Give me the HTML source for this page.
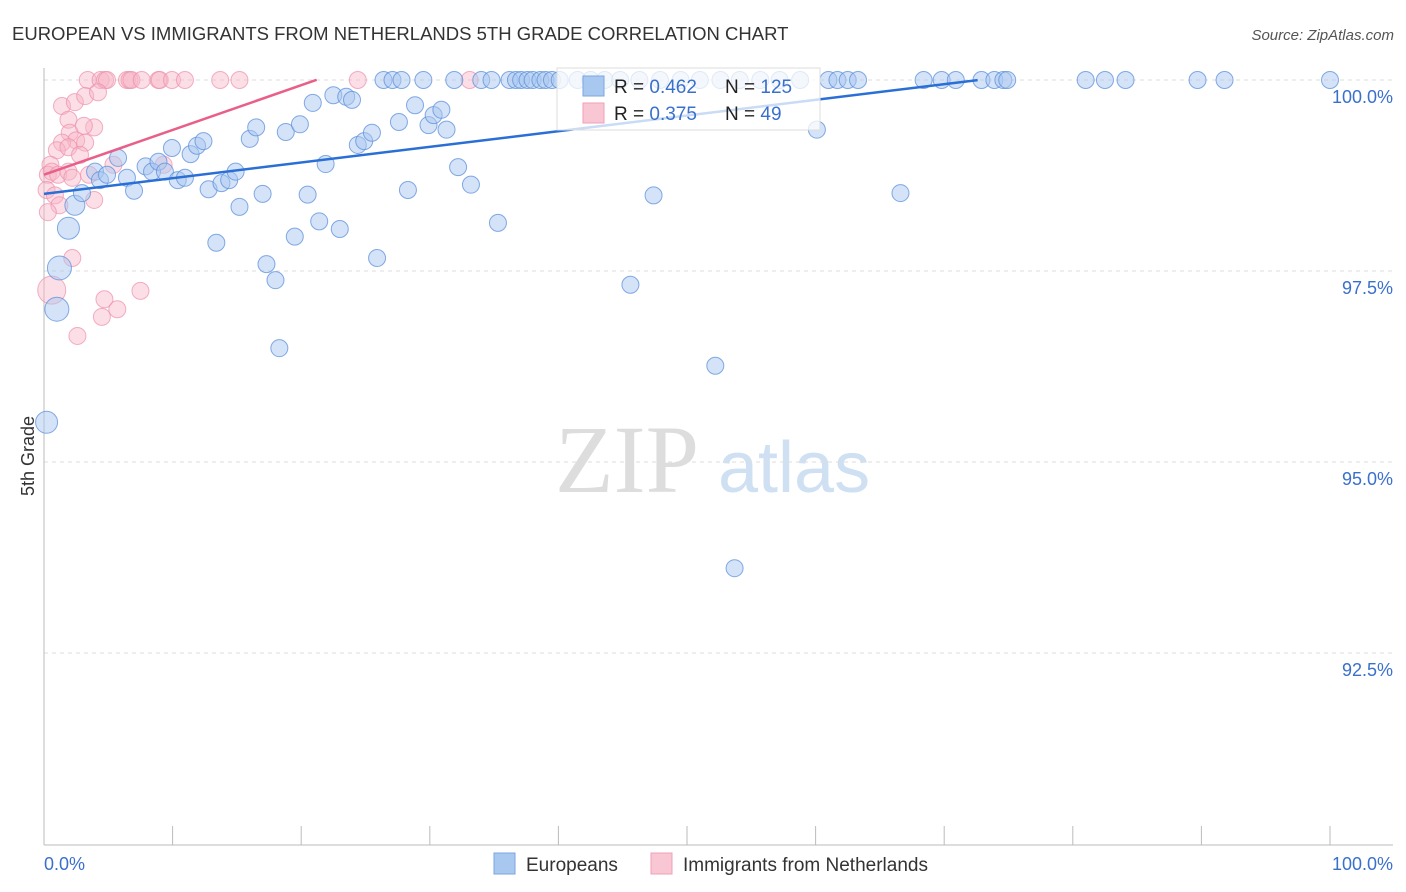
<!DOCTYPE html>
<html><head><meta charset="utf-8"><style>
body{margin:0;background:#fff;font-family:"Liberation Sans",sans-serif;}
#wrap{position:relative;width:1406px;height:892px;overflow:hidden;}
</style></head><body>
<div id="wrap">
<svg id="svg" width="1406" height="892" xmlns="http://www.w3.org/2000/svg">
<text x="12" y="40" font-size="18.5" fill="#333" font-family="Liberation Sans, sans-serif">EUROPEAN VS IMMIGRANTS FROM NETHERLANDS 5TH GRADE CORRELATION CHART</text>
<text x="1394" y="40" font-size="15" fill="#555" text-anchor="end" font-style="italic">Source: ZipAtlas.com</text>
<text x="0" y="0" transform="translate(34,456) rotate(-90)" font-size="18" fill="#333" text-anchor="middle">5th Grade</text>
<text x="555" y="492" font-size="96" fill="#ddd" font-family="Liberation Serif, serif">ZIP</text>
<text x="718" y="492" font-size="72" fill="#cfe0f3">atlas</text>
<g id="grid"></g><g id="pts"></g><g id="lines"></g>
<g>
<rect x="557" y="68" width="263" height="62" fill="#fff" fill-opacity="0.75" stroke="#ddd"/>
<rect x="583" y="76" width="21" height="20" fill="#a9c8f0" stroke="#7aa6e0"/>
<rect x="583" y="103" width="21" height="20" fill="#f9c6d4" stroke="#f0a0b8"/>
<text x="614" y="93" font-size="19" fill="#222">R = <tspan fill="#3a70cc">0.462</tspan></text>
<text x="725" y="93" font-size="19" fill="#222">N = <tspan fill="#3a70cc">125</tspan></text>
<text x="614" y="120" font-size="19" fill="#222">R = <tspan fill="#3a70cc">0.375</tspan></text>
<text x="725" y="120" font-size="19" fill="#222">N = <tspan fill="#3a70cc"> 49</tspan></text>
</g>
<g>
<rect x="494" y="853" width="21" height="21" fill="#a9c8f0" stroke="#7aa6e0"/>
<text x="526" y="871" font-size="19" fill="#333">Europeans</text>
<rect x="651" y="853" width="21" height="21" fill="#f9c6d4" stroke="#f0a0b8"/>
<text x="683" y="871" font-size="19" fill="#333">Immigrants from Netherlands</text>
</g>
</svg>
</div>
<script>
const blueX=[26.4,27.1,27.8,29.5,31.9,34.0,34.8,36.2,36.7,37.1,37.6,38.0,38.6,39.0,39.5,40.1,41.5,42.5,43.6,44.8,46.3,47.9,49.5,51.0,52.6,54.1,55.7,57.2,58.8,61.0,61.7,62.5,63.3,68.4,69.8,70.9,72.9,73.9,74.6,74.9,81.0,82.5,84.1,89.7,91.8,100,
0.2,1.2,1.0,1.9,2.4,2.95,3.97,4.35,4.9,5.76,6.45,7.0,7.9,8.4,8.9,9.4,9.95,10.4,10.96,11.4,11.9,12.4,12.8,13.4,13.8,14.4,14.9,15.2,16.0,16.5,17.0,17.3,18.0,18.3,18.8,19.5,19.9,20.5,20.9,21.4,22.5,23.0,23.5,23.95,24.4,24.9,25.5,21.9,25.9,27.6,28.3,28.85,29.9,30.3,30.9,31.3,32.2,33.2,35.3,45.6,47.4,52.2,53.7,60.1,66.6];
const blueY=[100,100,100,100,100,100,100,100,100,100,100,100,100,100,100,100,100,100,100,100,100,100,100,100,100,100,100,100,100,100,100,100,100,100,100,100,100,100,100,100,100,100,100,100,100,100,
95.52,97.54,97.0,98.06,98.36,98.52,98.80,98.69,98.76,98.98,98.72,98.55,98.87,98.80,98.93,98.80,99.11,98.69,98.72,99.03,99.14,99.20,98.57,97.87,98.65,98.69,98.80,98.34,99.23,99.38,98.51,97.59,97.38,96.49,99.32,97.95,99.42,98.50,99.70,98.15,99.80,98.05,99.78,99.74,99.15,99.20,99.31,98.90,97.67,99.45,98.56,99.67,99.41,99.54,99.61,99.35,98.86,98.63,98.13,97.32,98.49,96.26,93.61,99.35,98.52];
const blueBig={46:11,47:12,48:12,49:11,50:10};
const pinkX=[3.4,4.4,4.75,4.9,6.45,6.65,6.8,7.6,8.9,9.0,9.95,10.96,13.7,15.2,24.4,33.1,
1.4,2.4,3.2,4.2,1.9,2.0,2.5,3.9,3.1,3.2,1.4,1.0,1.9,2.8,0.5,0.3,0.6,1.1,1.9,2.2,3.5,5.4,9.3,0.2,0.85,1.2,0.3,3.9,2.2,0.6,4.7,5.7,4.5,7.5,2.6];
const pinkY=[100,100,100,100,100,100,100,100,100,100,100,100,100,100,100,100,
99.66,99.71,99.79,99.84,99.48,99.31,99.21,99.38,99.40,99.18,99.18,99.08,99.12,99.02,98.89,98.76,98.80,98.76,98.80,98.72,98.76,98.89,98.89,98.56,98.49,98.36,98.27,98.43,97.67,97.25,97.13,97.0,96.9,97.24,96.65];
const pinkBig={45:14};
const blueTrend=[98.51,0.0205,72.6];
const pinkTrend=[98.76,0.0586,21.2];
const yTicks=[100,97.5,95,92.5];
const yTickLabels=["100.0%","97.5%","95.0%","92.5%"];
const xTicks=[0,10,20,30,40,50,60,70,80,90,100];

const NS="http://www.w3.org/2000/svg";
const X=v=>44+v*12.86;
const Y=v=>80+(100-v)*76.4;
function mk(tag,attrs,parent){const e=document.createElementNS(NS,tag);for(const k in attrs)e.setAttribute(k,attrs[k]);parent.appendChild(e);return e;}
const grid=document.getElementById('grid'),pts=document.getElementById('pts'),lines=document.getElementById('lines'),svg=document.getElementById('svg');
yTicks.forEach((t,i)=>{
 const l=mk('line',{x1:44,x2:1393,y1:Y(t),y2:Y(t),stroke:'#ddd','stroke-dasharray':'4,4'},grid);
 
 
 const tx=mk('text',{x:1393,y:Y(t)+23,'font-size':18,fill:'#3a70cc','text-anchor':'end'},grid);
 tx.textContent=yTickLabels[i];
 
 
});
const ax=mk('line',{x1:44,x2:1393,y1:845,y2:845,stroke:'#bbb'},grid);


const ay=mk('line',{x1:44,x2:44,y1:68,y2:845,stroke:'#bbb'},grid);


xTicks.forEach(t=>{
 const l=mk('line',{x1:X(t),x2:X(t),y1:826,y2:845,stroke:'#bbb'},grid);
 
 
});
const xl0=mk('text',{x:44,y:870,'font-size':18,fill:'#3a70cc'},grid);xl0.textContent='0.0%';


const xl1=mk('text',{x:1393,y:870,'font-size':18,fill:'#3a70cc','text-anchor':'end'},grid);xl1.textContent='100.0%';


pinkX.forEach((v,i)=>{
 const c=mk('circle',{cx:X(v),cy:Y(pinkY[i]),r:pinkBig[i]||8.5,fill:'#f7b6c8','fill-opacity':0.45,stroke:'#ee8fab','stroke-opacity':0.7},pts);
 
 
});
blueX.forEach((v,i)=>{
 const c=mk('circle',{cx:X(v),cy:Y(blueY[i]),r:blueBig[i]||8.5,fill:'#a9c8f0','fill-opacity':0.5,stroke:'#5b8fdc','stroke-opacity':0.75},pts);
 
 
});
const pl=mk('line',{x1:X(0),y1:Y(pinkTrend[0]),x2:X(pinkTrend[2]),y2:Y(pinkTrend[0]+pinkTrend[1]*pinkTrend[2]),stroke:'#e8608a','stroke-width':2.5},lines);


const bl=mk('line',{x1:X(0),y1:Y(blueTrend[0]),x2:X(blueTrend[2]),y2:Y(blueTrend[0]+blueTrend[1]*blueTrend[2]),stroke:'#2a6fd6','stroke-width':2.5},lines);


</script>
</body></html>
